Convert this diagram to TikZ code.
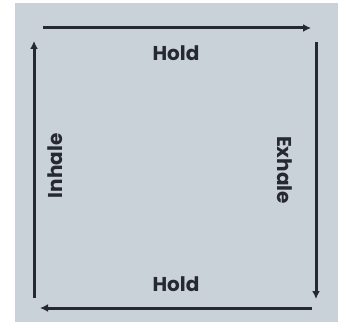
\documentclass[tikz,border=0pt]{standalone}
\usepackage{fontspec}
\setmainfont{Poppins}
\usetikzlibrary{positioning, arrows.meta}
\definecolor{boxfill}{RGB}{201,209,217}
\definecolor{darkline}{RGB}{38,41,47}

\begin{document}
\begin{tikzpicture}[x=1pt, y=-1pt,
    flow/.style={draw=darkline, line width=3pt, -{Latex[length=8pt,width=8pt]}},
    phase/.style={font=\fontsize{20}{22}\selectfont\bfseries, text=darkline, inner sep=1pt}]
        \useasboundingbox (0,0) rectangle (347,328);
        \fill[boxfill] (15,3) rectangle (338,322);
        % corners of the square cycle
        \coordinate (ts) at (43,28);   \coordinate (te) at (311,28);
        \coordinate (rs) at (316,42);  \coordinate (re) at (316,299);
        \coordinate (bs) at (312,308); \coordinate (be) at (40,308);
        \coordinate (ls) at (34,298);  \coordinate (le) at (34,41);
        \draw[flow] (ts) -- (te);
        \draw[flow] (rs) -- (re);
        \draw[flow] (bs) -- (be);
        \draw[flow] (ls) -- (le);
        \node[phase] (holdtop) at (176,53) {Hold};
        \node[phase] (holdbot) at (176,284) {Hold};
        \node[phase, rotate=90] (inhale) at (55,166) {Inhale};
        \node[phase, rotate=-90] (exhale) at (285,170) {Exhale};
      \end{tikzpicture}
\end{document}
